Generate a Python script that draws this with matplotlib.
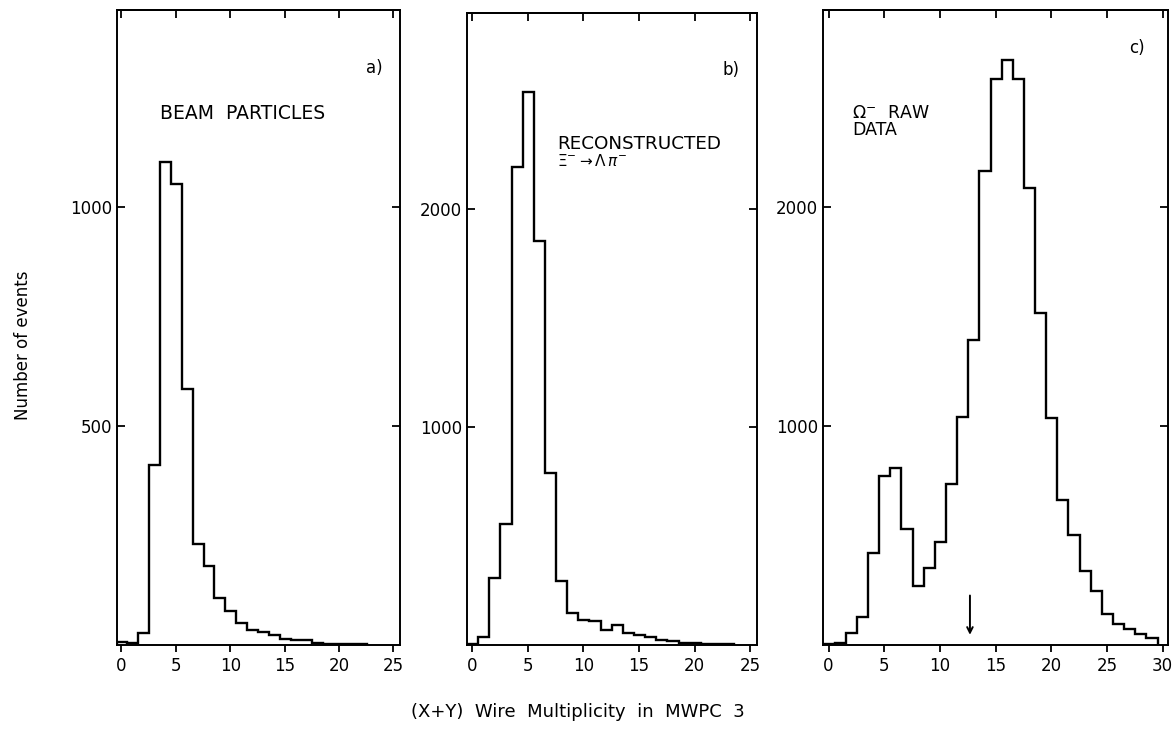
import numpy as np
import matplotlib
matplotlib.use("Agg")
import matplotlib.pyplot as plt

# (X+Y) wire multiplicity histograms, bins of width 1
beam_counts = [8, 5, 27, 411, 1103, 1053, 586, 232, 180, 107, 79, 51, 36, 30,
               23, 15, 13, 11, 5, 3, 3, 3, 3]
xi_counts = [6, 37, 307, 556, 2190, 2535, 1854, 791, 294, 150, 116, 110, 68, 93,
             57, 45, 40, 26, 20, 12, 10, 8, 8, 6]
omega_counts = [5, 12, 56, 127, 423, 771, 809, 531, 270, 351, 473, 736, 1041, 1393,
                2166, 2586, 2675, 2586, 2090, 1517, 1040, 664, 504, 340, 247, 145,
                99, 76, 53, 35]

panel_tags = ["a)", "b)", "c)"]
x_ticks = [[0, 5, 10, 15, 20, 25], [0, 5, 10, 15, 20, 25], [0, 5, 10, 15, 20, 25, 30]]
y_ticks = [[500, 1000], [1000, 2000], [1000, 2000]]
x_limits = [(-0.4, 25.6), (-0.45, 25.6), (-0.5, 30.5)]
y_limits = [(0, 1450), (0, 2900), (0, 2900)]
arrow_x = 12.7

fig = plt.figure(figsize=(11.74, 7.40), dpi=100)
boxes = [[0.0997, 0.128, 0.241, 0.858],
         [0.3978, 0.128, 0.247, 0.855],
         [0.701, 0.128, 0.294, 0.858]]

counts = [beam_counts, xi_counts, omega_counts]
axes = []
for i, box in enumerate(boxes):
    ax = fig.add_axes(box)
    vals = counts[i]
    edges = np.arange(len(vals) + 1) - 0.45
    ax.stairs(vals, edges, color="black", linewidth=1.7, baseline=0)
    ax.set_xlim(*x_limits[i])
    ax.set_ylim(*y_limits[i])
    ax.set_xticks(x_ticks[i])
    ax.set_yticks(y_ticks[i])
    for sp in ax.spines.values():
        sp.set_linewidth(1.4)
    ax.tick_params(axis="both", labelsize=12, width=1.3, length=6)
    ax.tick_params(axis="y", direction="in", right=True)
    ax.tick_params(axis="x", direction="out", length=5)
    # inward ticks along the top edge
    top = ax.secondary_xaxis("top")
    top.set_xticks(x_ticks[i])
    top.tick_params(direction="in", length=6, width=1.3, labeltop=False)
    top.spines["top"].set_linewidth(1.4)
    ax.text(0.91, 0.91 if i < 2 else 0.94, panel_tags[i], transform=ax.transAxes,
            fontsize=12, ha="center", va="center")
    axes.append(ax)

axes[0].text(0.152, 0.838, "BEAM  PARTICLES", transform=axes[0].transAxes,
             fontsize=13.5, ha="left", va="center")
axes[1].text(0.31, 0.792, "RECONSTRUCTED", transform=axes[1].transAxes,
             fontsize=13.2, ha="left", va="center")
axes[1].text(0.31, 0.765, r"$\Xi^{-}\rightarrow\Lambda\,\pi^{-}$", transform=axes[1].transAxes,
             fontsize=11, ha="left", va="center")
axes[2].text(0.084, 0.838, r"$\Omega^{-}$  RAW", transform=axes[2].transAxes,
             fontsize=12.5, ha="left", va="center")
axes[2].text(0.084, 0.812, "DATA", transform=axes[2].transAxes,
             fontsize=12.5, ha="left", va="center")

# arrow marking the cut in panel c
axes[2].annotate("", xy=(arrow_x, 35), xytext=(arrow_x, 240),
                 arrowprops=dict(arrowstyle="->", color="black", lw=1.4))

fig.text(0.02, 0.534, "Number of events", rotation=90, fontsize=12,
         ha="center", va="center")
fig.text(0.492, 0.038, "(X+Y)  Wire  Multiplicity  in  MWPC  3", fontsize=13,
         ha="center", va="center")

fig.savefig("out.png", dpi=100)
